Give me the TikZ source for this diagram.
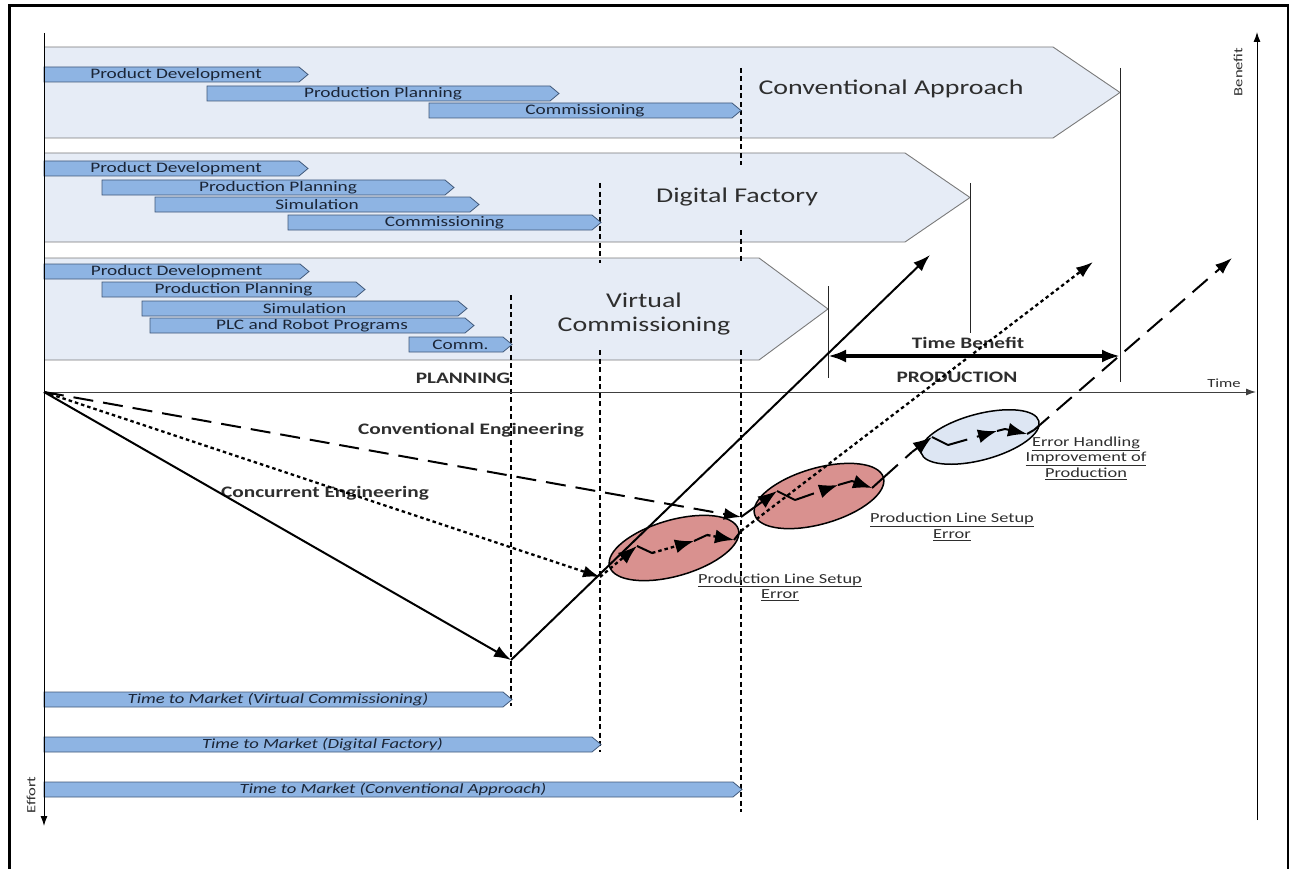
\documentclass[tikz,border=0pt]{standalone}
\usepackage{fontspec}
\setmainfont{Carlito}[FakeStretch=1.33]
\usetikzlibrary{shapes.geometric,arrows.meta}
\definecolor{bigfill}{HTML}{E6ECF6}
\definecolor{bigline}{HTML}{7A7A7A}
\definecolor{barfill}{HTML}{8EB4E3}
\definecolor{barline}{HTML}{41597A}
\definecolor{bartxt}{HTML}{1B2536}
\definecolor{redfill}{HTML}{D9918F}
\definecolor{bluefill}{HTML}{DDE6F3}
\definecolor{txtgray}{HTML}{2E2E2E}
\tikzset{
 bigshape/.style={fill=bigfill, draw=bigline, line width=0.9pt},
 barshape/.style={fill=barfill, draw=barline, line width=0.8pt},
 bartext/.style={font=\fontsize{14.5}{14.5}\selectfont, text=bartxt, inner sep=0pt},
 ttmtext/.style={font=\fontsize{14}{14}\selectfont\itshape, text=bartxt, inner sep=0pt},
 bigtext/.style={font=\fontsize{21}{24}\selectfont, text=txtgray, align=center, inner sep=0pt},
 boldlabel/.style={font=\fontsize{16}{16}\selectfont\bfseries, text=txtgray, inner sep=0pt},
 errlabel/.style={font=\fontsize{13.8}{15.5}\selectfont, text=txtgray, align=center, inner sep=0pt},
 axislabel/.style={font=\fontsize{12.5}{12.5}\selectfont, text=txtgray, inner sep=0pt},
 vdash/.style={line width=1.8pt, dash pattern=on 5pt off 3.5pt},
 thinv/.style={line width=1pt, draw=black!85},
 solidln/.style={line width=2pt},
 dotln/.style={line width=2.3pt, dash pattern=on 3.5pt off 3pt},
 dashln/.style={line width=2pt, dash pattern=on 20pt off 10pt},
 bigtip/.style={-{Latex[length=17pt,width=12pt]}},
 smalltip/.style={-{Latex[length=19pt,width=14pt]}},
 errell/.style={ellipse, draw, line width=1.5pt, inner sep=0pt},
}
\newcommand\chevbar[6]{%
  \pgfmathsetmacro\cbB{#4+15}%
  \pgfmathsetmacro\cbM{#4+7.5}%
  \pgfmathsetmacro\cbT{#3-9}%
  \pgfmathsetmacro\cbC{(#2+#3)/2}%
  \draw[barshape] (#2,#4) -- (\cbT,#4) -- (#3,\cbM) -- (\cbT,\cbB) -- (#2,\cbB) -- cycle;
  \node[#6] (#1) at (\cbC,\cbM) {#5};}
\begin{document}
\begin{tikzpicture}[x=1pt,y=-1pt]
\useasboundingbox (0,0) rectangle (1289,869);
% frame
\draw[line width=3pt] (9,880) -- (9,5.5) -- (1289,5.5);
\draw[line width=2pt] (1288,5) -- (1288,869);

% big phases
\draw[bigshape] (44,47) -- (1053,47) -- (1120,92.5) -- (1053,138) -- (44,138);
\draw[bigshape] (44,153) -- (905,153) -- (970,197.5) -- (905,242) -- (44,242);
\draw[bigshape] (44,258) -- (759,258) -- (828,309) -- (759,360) -- (44,360);
\node[bigtext] (tca) at (891,89) {Conventional Approach};
\node[bigtext] (tdf) at (737,197) {Digital Factory};
\node[bigtext] (tvc) at (644,314) {Virtual\\Commissioning};

% thin vertical marker lines
\coordinate (m1t) at (1120,68);  \coordinate (m1b) at (1120,382);
\coordinate (m2t) at (970,183);  \coordinate (m2b) at (970,333);
\coordinate (m3t) at (828,286);  \coordinate (m3b) at (828,378);
\draw[thinv] (m1t) -- (m1b);
\draw[thinv] (m2t) -- (m2b);
\draw[thinv] (m3t) -- (m3b);

% dashed vertical lines
\draw[vdash] (741,68) -- (741,165);
\draw[vdash] (741,230) -- (741,263);
\draw[vdash] (741,350) -- (741,812);
\draw[vdash] (600,183) -- (600,263);
\draw[vdash] (600,350) -- (600,752);
\draw[vdash] (511,295) -- (511,706);

% conventional bars
\chevbar{c1}{44}{308}{67}{Product Development}{bartext}
\chevbar{c2}{207}{559}{86}{Production Planning}{bartext}
\chevbar{c3}{429}{741}{103}{Commissioning}{bartext}
% digital factory bars
\chevbar{d1}{44}{308}{161}{Product Development}{bartext}
\chevbar{d2}{102}{454}{180}{Production Planning}{bartext}
\chevbar{d3}{155}{479}{197}{Simulation}{bartext}
\chevbar{d4}{288}{601}{215}{Commissioning}{bartext}
% virtual commissioning bars
\chevbar{v1}{44}{309}{264}{Product Development}{bartext}
\chevbar{v2}{102}{365}{282}{Production Planning}{bartext}
\chevbar{v3}{142}{467}{301}{Simulation}{bartext}
\chevbar{v4}{150}{474}{318}{PLC and Robot Programs}{bartext}
\chevbar{v5}{409}{512}{337}{Comm.}{bartext}
% time to market bars
\chevbar{t1}{44}{512}{692}{Time to Market (Virtual Commissioning)}{ttmtext}
\chevbar{t2}{44}{601}{737}{Time to Market (Digital Factory)}{ttmtext}
\chevbar{t3}{44}{742}{782}{Time to Market (Conventional Approach)}{ttmtext}

% axes
\coordinate (orig) at (44,392);
\coordinate (atop) at (44,33);
\coordinate (abot) at (44,826);
\coordinate (tend) at (1256,392);
\coordinate (bbot) at (1257,820);
\coordinate (btop) at (1257,32);
\draw[line width=1pt, -{Latex[length=10pt,width=7pt]}] (atop) -- (abot);
\draw[line width=1pt, draw=black!75, -{Latex[length=10pt,width=7pt]}] (orig) -- (tend);
\draw[line width=1pt, -{Latex[length=10pt,width=7pt]}] (bbot) -- (btop);
\node[axislabel, rotate=90] (leff) at (31,795) {Effort};
\node[axislabel, rotate=90] (lben) at (1238,72) {Benefit};
\node[axislabel] (ltime) at (1224,383) {Time};

\node[boldlabel] (lplan) at (463,378) {PLANNING};
\node[boldlabel] (lprod) at (957,377) {PRODUCTION};
\node[boldlabel] (ltb) at (968,343) {Time Benefit};
\node[boldlabel] (lconv) at (471,430) {Conventional Engineering};
\node[boldlabel] (lconc) at (325,493) {Concurrent Engineering};

% ellipses
\node[errell, fill=redfill, minimum width=134pt, minimum height=56pt, rotate=16] (e1) at (674,548) {};
\node[errell, fill=redfill, minimum width=134pt, minimum height=56pt, rotate=16] (e2) at (819,496) {};
\node[errell, fill=bluefill, minimum width=122pt, minimum height=46pt, rotate=15] (e3) at (980,437) {};
\node[errlabel] (le1) at (780,587) {\underline{Production Line Setup}\\\underline{Error}};
\node[errlabel] (le2) at (952,527) {\underline{Production Line Setup}\\\underline{Error}};
\node[errlabel] (le3) at (1086,458) {\underline{Error Handling}\\\underline{Improvement of}\\\underline{Production}};

% time benefit arrow
\coordinate (tb1) at (828,356);
\coordinate (tb2) at (1120,356);
\draw[line width=3.5pt, {Latex[length=18pt,width=13pt]}-{Latex[length=18pt,width=13pt]}] (tb1) -- (tb2);

% effort lines
\coordinate (vc) at (511,660);
\coordinate (df) at (600,577);
\coordinate (ca) at (741,517);
\draw[solidln, bigtip] (orig) -- (vc);
\draw[dotln, bigtip] (orig) -- (df);
\draw[dashln, bigtip] (orig) -- (ca);

% benefit lines
\coordinate (vcend) at (930,255);
\draw[solidln, bigtip] (vc) -- (vcend);

\coordinate (a1) at (637,546); \coordinate (a2) at (652,553);
\coordinate (a3) at (694,541); \coordinate (a4) at (707,535);
\coordinate (a5) at (734,540); \coordinate (a6) at (741,531);
\coordinate (dfend) at (1093,262);
\draw[dotln, smalltip] (df) -- (a1);
\draw[solidln] (a1) -- (a2);
\draw[dotln, smalltip] (a2) -- (a3);
\draw[solidln] (a3) -- (a4);
\draw[dotln, smalltip] (a4) -- (a5);
\draw[solidln] (a5) -- (a6);
\draw[dotln, bigtip] (a6) -- (dfend);

\coordinate (b1) at (777,491); \coordinate (b2) at (795,500);
\coordinate (b3) at (838,485); \coordinate (b4) at (852,481);
\coordinate (b5) at (872,488); \coordinate (b6) at (883,478);
\coordinate (c0) at (912,452);
\draw[solidln, smalltip] (ca) -- (b1);
\draw[solidln] (b1) -- (b2);
\draw[dashln, smalltip] (b2) -- (b3);
\draw[solidln] (b3) -- (b4);
\draw[solidln, smalltip] (b4) -- (b5);
\draw[solidln] (b5) -- (b6);
\draw[dashln] (b6) -- (c0);

\coordinate (c1) at (932,437); \coordinate (c2) at (948,445);
\coordinate (c3) at (997,431); \coordinate (c4) at (1005,429);
\coordinate (c5) at (1027,434); \coordinate (c6) at (1034,430);
\coordinate (caend) at (1232,258);
\draw[solidln, smalltip] (c0) -- (c1);
\draw[solidln] (c1) -- (c2);
\draw[dashln, smalltip] (c2) -- (c3);
\draw[solidln] (c3) -- (c4);
\draw[solidln, smalltip] (c4) -- (c5);
\draw[solidln] (c5) -- (c6);
\draw[dashln, bigtip] (c6) -- (caend);
\end{tikzpicture}
\end{document}
